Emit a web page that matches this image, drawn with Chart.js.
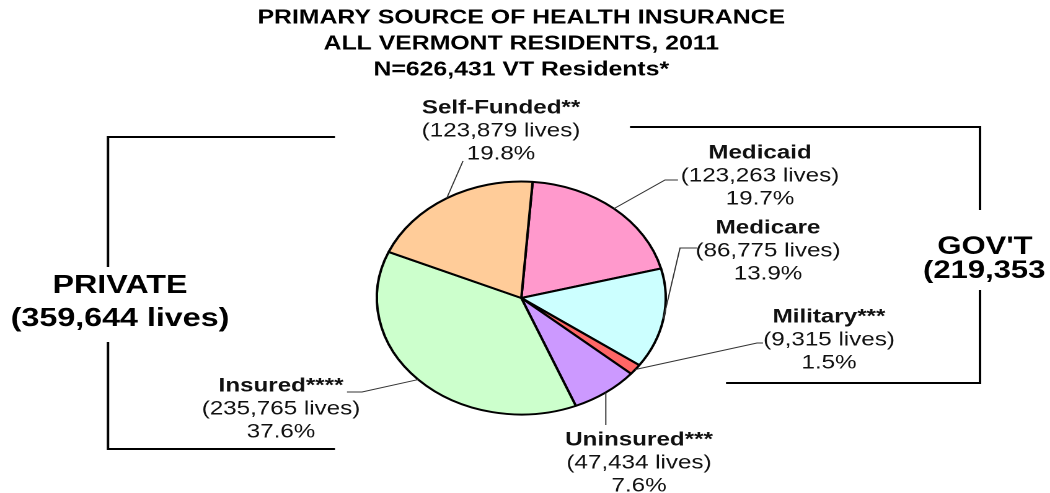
<!DOCTYPE html>
<html>
<head>
<meta charset="utf-8">
<script src="https://cdn.jsdelivr.net/npm/chart.js@4/dist/chart.umd.min.js"></script>
<style>
  html, body { margin: 0; padding: 0; background: #fff; overflow: hidden; }
  /* the original picture is stretched sideways, so the whole chart is too */
  #wrap { width: 847px; height: 493px; transform: scaleX(1.2397); transform-origin: 0 0; }
</style>
</head>
<body>
<div id="wrap"><canvas id="pie"></canvas></div>
<script>
// ============================
// data
// ============================

const categories = ["Medicaid", "Medicare", "Military***", "Uninsured***", "Insured****", "Self-Funded**"];
const lives = [123263, 86775, 9315, 47434, 235765, 123879];
const sliceColors = ["#FF99CC", "#CCFFFF", "#FF6666", "#CC99FF", "#CCFFCC", "#FFCC99"];
const titleLines = ["PRIMARY SOURCE OF HEALTH INSURANCE", "ALL VERMONT RESIDENTS, 2011", "N=626,431 VT Residents*"];
const groupNames = ["PRIVATE", "GOV'T"];
const groupLives = [359644, 219353];

// ============================
// layout (page pixels, converted to chart pixels with X())
// ============================

const S = 1.2397;
const X = x => x / S;
const FONT = "'Liberation Sans', Arial, sans-serif";

// label centre x, first line y, leader points after the slice edge (null x = keep start x)
const labelLayout = [
  { cx: 760, y: 153, leader: [[665, 180], [678, 180]] },
  { cx: 768, y: 228, leader: [[680, 248], [697, 248]] },
  { cx: 829, y: 317, leader: [[757, 343], [763, 343]] },
  { cx: 639, y: 440, leader: [[null, 425]] },
  { cx: 281, y: 386, leader: [[362, 392], [347, 392]] },
  { cx: 501, y: 108, leader: [[463, 161]] }
];

const total = lives.reduce((a, b) => a + b, 0);
const fmt = n => n.toLocaleString("en-US");

// ============================
// brackets, leader lines and labels
// ============================

const annotate = {
  id: "annotate",
  afterDraw(chart) {
    const ctx = chart.ctx;
    const meta = chart.getDatasetMeta(0);
    ctx.save();

    // brackets
    ctx.strokeStyle = "#000";
    ctx.lineWidth = 2;
    const path = pts => {
      ctx.beginPath();
      pts.forEach((p, i) => i ? ctx.lineTo(X(p[0]), p[1]) : ctx.moveTo(X(p[0]), p[1]));
      ctx.stroke();
    };
    path([[335, 137], [108, 137], [108, 267]]);
    path([[108, 342], [108, 449], [335, 449]]);
    path([[630, 127], [980, 127], [980, 210]]);
    path([[980, 290], [980, 383], [726, 383]]);

    // leader lines from the middle of each slice edge
    ctx.strokeStyle = "#333";
    ctx.lineWidth = 1;
    meta.data.forEach((arc, i) => {
      const p = arc.getProps(["x", "y", "startAngle", "endAngle", "outerRadius"], true);
      const a = (p.startAngle + p.endAngle) / 2;
      const sx = p.x + Math.cos(a) * p.outerRadius;
      const sy = p.y + Math.sin(a) * p.outerRadius;
      ctx.beginPath();
      ctx.moveTo(sx, sy);
      labelLayout[i].leader.forEach(pt => ctx.lineTo(pt[0] === null ? sx : X(pt[0]), pt[1]));
      ctx.stroke();
    });

    // slice labels
    ctx.fillStyle = "#111";
    ctx.textAlign = "center";
    ctx.textBaseline = "middle";
    categories.forEach((name, i) => {
      const L = labelLayout[i];
      const pct = (lives[i] / total * 100).toFixed(1) + "%";
      ctx.font = "bold 19.5px " + FONT;
      ctx.fillText(name, X(L.cx), L.y);
      ctx.font = "19.5px " + FONT;
      ctx.fillText("(" + fmt(lives[i]) + " lives)", X(L.cx), L.y + 23);
      ctx.fillText(pct, X(L.cx), L.y + 46);
    });

    // group labels
    ctx.fillStyle = "#000";
    ctx.font = "bold 26px " + FONT;
    ctx.fillText(groupNames[0], X(120), 286);
    ctx.fillText("(" + fmt(groupLives[0]) + " lives)", X(120), 319);
    ctx.font = "bold 25px " + FONT;
    ctx.fillText(groupNames[1], X(985), 247);
    ctx.textAlign = "left";
    ctx.fillText("(" + fmt(groupLives[1]) + " lives)", X(923), 271);

    ctx.restore();
  }
};

// ============================
// chart
// ============================

new Chart(document.getElementById("pie"), {
  type: "pie",
  data: {
    labels: categories,
    datasets: [{
      data: lives,
      backgroundColor: sliceColors,
      borderColor: "#000",
      borderWidth: 2
    }]
  },
  options: {
    responsive: true,
    maintainAspectRatio: false,
    animation: false,
    devicePixelRatio: 2,
    rotation: 4.5,
    radius: 116.5,
    layout: { padding: { left: 0, right: 6, top: 0, bottom: 20 } },
    plugins: {
      legend: { display: false },
      tooltip: { enabled: false },
      title: {
        display: true,
        text: titleLines,
        color: "#000",
        font: { family: FONT, size: 20, weight: "bold", lineHeight: 1.3 },
        padding: { top: 5, bottom: 40 }
      }
    }
  },
  plugins: [annotate]
});
</script>
</body>
</html>
